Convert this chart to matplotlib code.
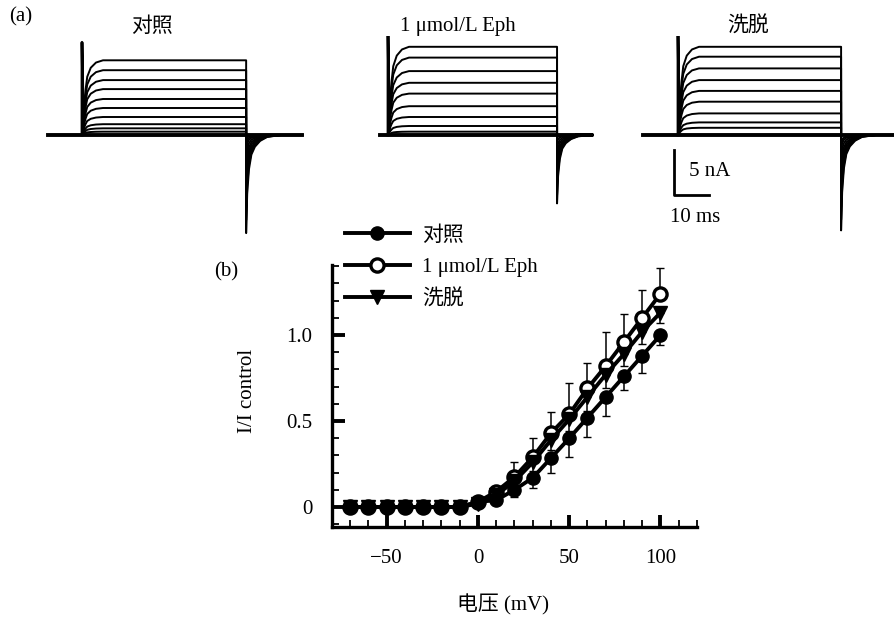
import numpy as np
import matplotlib
matplotlib.use("Agg")
import matplotlib.pyplot as plt
from matplotlib.ticker import MultipleLocator, FixedLocator

plt.rcParams['font.family'] = ['Liberation Serif', 'Noto Sans CJK SC', 'DejaVu Sans']
plt.rcParams['axes.unicode_minus'] = True

# ---------------- data: (a) current traces ----------------
panel_titles = ['对照', '1 μmol/L Eph', '洗脱']
# steady-state current of each trace (nA)
trace_levels = [
    [8.3, 7.2, 6.1, 5.1, 4.0, 3.0, 2.0, 1.2, 0.74, 0.37, 0.0],
    [9.8, 8.6, 7.1, 5.8, 4.6, 3.2, 2.0, 1.0, 0.37, 0.0],
    [9.8, 8.7, 7.4, 6.1, 4.9, 3.7, 2.4, 1.4, 0.8, 0.0],
]
baseline_start = [-9.7, -2.3, -10.0]   # ms
step_end = [46.9, 48.3, 46.6]          # ms
trace_end = [62.9, 54.0, 62.9]         # ms
onset_spike = [10.3, 11.3, 11.3]       # nA
tail_peak = [10.9, 7.6, 10.6]          # nA
# activation time course (fraction of steady state)
act_t = [0, 0.5, 1.0, 1.5, 2.5, 4.0, 6.0]
act_f = [0, 0.35, 0.6, 0.78, 0.9, 0.97, 1.0]
# tail current time course (fraction of peak), ms after step end
tail_t = [0, 0.3, 0.8, 1.5, 2.5, 4.0, 6.0, 10.0]
tail_f = [1, 0.6, 0.35, 0.2, 0.12, 0.06, 0.02, 0]

# ---------------- data: (b) I-V curve ----------------
voltage = [-70, -60, -50, -40, -30, -20, -10, 0, 10, 20, 30, 40, 50, 60, 70, 80, 90, 100]
control = [0, 0, 0, 0, 0, 0, 0, 0.03, 0.04, 0.10, 0.17, 0.285, 0.40, 0.52, 0.64, 0.76, 0.88, 1.0]
eph = [0, 0, 0, 0, 0, 0, 0, 0.03, 0.09, 0.175, 0.29, 0.43, 0.54, 0.69, 0.82, 0.96, 1.10, 1.24]
wash = [0, 0, 0, 0, 0, 0, 0, 0.02, 0.07, 0.15, 0.26, 0.39, 0.51, 0.64, 0.77, 0.89, 1.02, 1.13]
control_err = [0, 0, 0, 0, 0, 0, 0, 0, 0.02, 0.04, 0.06, 0.09, 0.11, 0.11, 0.11, 0.08, 0.10, 0.06]
eph_err = [0, 0, 0, 0, 0, 0, 0, 0, 0.03, 0.085, 0.11, 0.12, 0.18, 0.15, 0.2, 0.16, 0.16, 0.15]
wash_err = [0, 0, 0, 0, 0, 0, 0, 0, 0.02, 0.03, 0.05, 0.06, 0.07, 0.08, 0.08, 0.07, 0.07, 0.06]
legend_labels = ['对照', '1 μmol/L Eph', '洗脱']

W, H = 895, 619
fig = plt.figure(figsize=(W / 100, H / 100), dpi=100)


def px_axes(left, top, width, height):
    return fig.add_axes([left / W, 1 - (top + height) / H, width / W, height / H])


# ---------------- (a) ----------------
ms_px, na_px = 3.5, 9.0
t_lo, t_hi = -12, 65
i_lo, i_hi = -12, 11
onset_px = [82, 388, 678]
for k in range(3):
    left = onset_px[k] + t_lo * ms_px
    top = 135 - i_hi * na_px
    ax = px_axes(left, top, (t_hi - t_lo) * ms_px, (i_hi - i_lo) * na_px)
    ax.set_xlim(t_lo, t_hi)
    ax.set_ylim(i_lo, i_hi)
    ax.axis('off')
    lmax = max(trace_levels[k])
    for lev in trace_levels[k]:
        t = [baseline_start[k]] + act_t + [step_end[k], step_end[k]]
        i = [0] + [lev * f for f in act_f] + [lev, -tail_peak[k] * lev / lmax]
        t += [step_end[k] + x for x in tail_t] + [trace_end[k]]
        i += [-tail_peak[k] * lev / lmax * f for f in tail_f] + [0]
        ax.plot(t, i, color='black', lw=1.4 if lev > 0 else 2.8, solid_joinstyle='round')
    ax.plot([0, 0, 0.4], [0, onset_spike[k], 0.5], color='black', lw=2.0)
    ax.text(20, 12.0, panel_titles[k], ha='center', va='center', fontsize=15,
            clip_on=False)
    if k == 2:
        # scale bar
        ax.plot([-1.1, -1.1, 8.9], [-1.7, -6.7, -6.7], color='black', lw=2.0)
        ax.text(3.2, -4.1, '5 nA', ha='left', va='center', fontsize=15)
        ax.text(-2.2, -9.2, '10 ms', ha='left', va='center', fontsize=15)

fig.text(9 / W, 1 - 17 / H, '(a)', ha='left', va='center', fontsize=15)
fig.text(214 / W, 1 - 272 / H, '(b)', ha='left', va='center', fontsize=15)

# ---------------- (b) ----------------
ax = px_axes(332, 265, 365, 262)
ax.set_xlim(-80, 120)
ax.set_ylim(-0.116, 1.407)

ax.errorbar(voltage, control, yerr=[control_err, [0] * len(voltage)], fmt='none',
            ecolor='black', elinewidth=1.1, capsize=3, zorder=2)
ax.errorbar(voltage, eph, yerr=[[0] * len(voltage), eph_err], fmt='none',
            ecolor='black', elinewidth=1.1, capsize=3, zorder=2)
ax.errorbar(voltage, wash, yerr=[wash_err, [0] * len(voltage)], fmt='none',
            ecolor='black', elinewidth=1.1, capsize=3, zorder=2)

h2, = ax.plot(voltage, eph, color='black', lw=2.8, marker='o', ms=9.5,
              mfc='white', mec='black', mew=2.4, zorder=3, label=legend_labels[1])
h3, = ax.plot(voltage, wash, color='black', lw=2.8, marker='v', ms=10.5,
              mfc='black', mec='black', zorder=4, label=legend_labels[2])
h1, = ax.plot(voltage, control, color='black', lw=2.8, marker='o', ms=9.5,
              mfc='black', mec='black', zorder=5, label=legend_labels[0])

for s in ['top', 'right']:
    ax.spines[s].set_visible(False)
for s in ['left', 'bottom']:
    ax.spines[s].set_linewidth(2.4)

ax.xaxis.set_major_locator(FixedLocator([-50, 0, 50, 100]))
ax.xaxis.set_minor_locator(MultipleLocator(10))
ax.yaxis.set_major_locator(FixedLocator([0, 0.5, 1.0]))
ax.yaxis.set_minor_locator(MultipleLocator(0.1))
ax.set_xticklabels(['\u221250', '0', '50', '100'])
ax.set_yticklabels(['0', '0.5', '1.0'])
ax.tick_params(which='major', direction='in', length=9, width=2.8, labelsize=15)
ax.tick_params(axis='x', which='major', pad=16)
ax.tick_params(axis='y', which='major', pad=14)
ax.tick_params(which='minor', direction='in', length=5, width=1.3)

ax.set_xlabel('电压 (mV)', fontsize=15)
ax.xaxis.set_label_coords(0.468, -0.258)
ax.set_ylabel('I/I control', fontsize=15)
ax.yaxis.set_label_coords(-0.205, 0.52)

fig.legend(handles=[h1, h2, h3], labels=legend_labels, loc='upper left',
           bbox_to_anchor=(345 / W, 1 - 226 / H), frameon=False, fontsize=15,
           handlelength=3.1, handletextpad=0.6, labelspacing=0.58,
           borderpad=0, borderaxespad=0)

fig.savefig('out.png', dpi=100)
